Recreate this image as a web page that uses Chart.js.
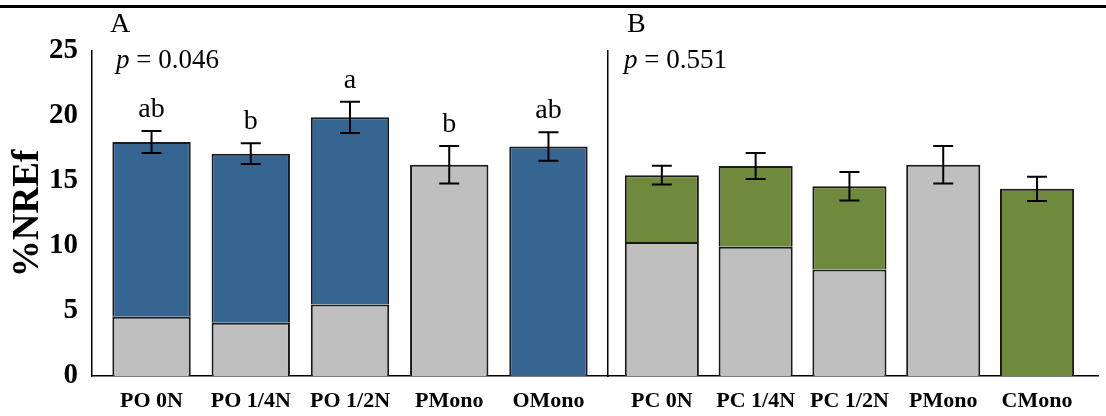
<!DOCTYPE html>
<html>
<head>
<meta charset="utf-8">
<script src="https://cdn.jsdelivr.net/npm/chart.js@4.4.1/dist/chart.umd.min.js"></script>
<style>
    html, body { margin: 0; padding: 0; background: #fff; }
    #wrap { position: relative; width: 1106px; height: 416px; overflow: hidden; }
    #wrap canvas { position: absolute; left: 0; top: 0; }
    #topRule { position: absolute; left: 0; top: 5px; width: 1106px; height: 3px; background: #000; }
</style>
</head>
<body>
<div id="wrap">
    <div id="topRule"></div>
    <canvas id="chartA" width="1106" height="416"></canvas>
    <canvas id="chartB" width="1106" height="416"></canvas>
</div>
<script>
// Panel A: PO intercrop
const labelsA = ['PO 0N', 'PO 1/4N', 'PO 1/2N', 'PMono', 'OMono'];
const grayA = [4.55, 4.1, 5.5, 16.25, null];
const blueA = [13.45, 13.0, 14.4, null, 17.65];
const errA = [0.85, 0.8, 1.2, 1.45, 1.1];
const lettersA = ['ab', 'b', 'a', 'b', 'ab'];

// Panel B: PC intercrop
const labelsB = ['PC 0N', 'PC 1/4N', 'PC 1/2N', 'PMono', 'CMono'];
const grayB = [10.3, 9.95, 8.2, 16.25, null];
const greenB = [5.15, 6.2, 6.4, null, 14.4];
const errB = [0.72, 1.0, 1.1, 1.45, 0.93];
const lettersB = ['', '', '', '', ''];

const yTicks = [0, 5, 10, 15, 20, 25];

const SERIF = '"Liberation Serif", "Times New Roman", serif';
const GRAY = '#bfbfbf';
const BLUE = '#376591';
const GREEN = '#6f8a3d';

// error bars, letters, p value and panel letter
function overlayPlugin(errs, letters, pLabel, pX, panel, panelX) {
    return {
        id: 'overlay',
        afterDatasetsDraw(chart) {
            const ctx = chart.ctx;
            const x = chart.scales.x;
            const y = chart.scales.y;
            ctx.save();
            errs.forEach((e, i) => {
                let total = 0;
                chart.data.datasets.forEach(ds => { total += ds.data[i].y || 0; });
                const cx = x.getPixelForValue(i + 1);
                const top = y.getPixelForValue(total + e);
                const bot = y.getPixelForValue(total - e);
                ctx.strokeStyle = '#000';
                ctx.lineWidth = 2;
                ctx.beginPath();
                ctx.moveTo(cx, top); ctx.lineTo(cx, bot);
                ctx.moveTo(cx - 10, top); ctx.lineTo(cx + 10, top);
                ctx.moveTo(cx - 10, bot); ctx.lineTo(cx + 10, bot);
                ctx.stroke();

                if (letters[i]) {
                    ctx.fillStyle = '#000';
                    ctx.font = '28px ' + SERIF;
                    ctx.textAlign = 'center';
                    ctx.textBaseline = 'alphabetic';
                    ctx.fillText(letters[i], cx, top - 14);
                }
            });

            ctx.fillStyle = '#000';
            ctx.textAlign = 'left';
            ctx.textBaseline = 'alphabetic';
            ctx.font = 'italic 27px ' + SERIF;
            ctx.fillText('p', pX, 68);
            const w = ctx.measureText('p').width;
            ctx.font = '27px ' + SERIF;
            ctx.fillText(' = ' + pLabel, pX + w, 68);

            ctx.font = '28px ' + SERIF;
            ctx.fillText(panel, panelX, 32);
            ctx.restore();
        }
    };
}

function makePanel(id, labels, bottom, top, topColor, errs, letters, opts) {
    const toXY = arr => arr.map((v, i) => ({ x: i + 1, y: v }));
    return new Chart(document.getElementById(id), {
        type: 'bar',
        data: {
            datasets: [{
                data: toXY(bottom),
                backgroundColor: GRAY,
                borderColor: '#1a1a1a',
                borderWidth: 2,
                barPercentage: 0.79,
                categoryPercentage: 1
            }, {
                data: toXY(top),
                backgroundColor: topColor,
                borderColor: '#1a1a1a',
                borderWidth: 2,
                barPercentage: 0.79,
                categoryPercentage: 1
            }]
        },
        options: {
            responsive: false,
            animation: false,
            layout: { padding: { top: 51, right: opts.padRight, left: 0, bottom: 0 } },
            plugins: { legend: { display: false }, tooltip: { enabled: false } },
            scales: {
                x: {
                    type: 'linear',
                    offset: false,
                    stacked: true,
                    min: opts.xMin,
                    max: opts.xMax,
                    grid: { display: false, drawTicks: false, offset: false },
                    border: { display: true, color: '#000', width: 1.5 },
                    afterBuildTicks: s => { s.ticks = labels.map((_, i) => ({ value: i + 1 })); },
                    afterFit: s => { s.height = 40; },
                    ticks: {
                        padding: 12,
                        color: '#000',
                        font: { family: SERIF, size: 22, weight: 'bold' },
                        callback: (v, i) => labels[i]
                    }
                },
                y: {
                    stacked: true,
                    min: 0,
                    max: 25,
                    grid: { display: false, drawTicks: false },
                    border: { display: true, color: '#000', width: 1.5 },
                    afterBuildTicks: s => { s.ticks = yTicks.map(v => ({ value: v })); },
                    afterFit: s => { s.width = opts.yWidth; },
                    ticks: {
                        display: opts.showY,
                        padding: 14,
                        color: '#000',
                        font: { family: SERIF, size: 29, weight: 'bold' }
                    },
                    title: {
                        display: opts.showY,
                        text: '%NREf',
                        color: '#000',
                        padding: { top: 6, bottom: 0 },
                        font: { family: SERIF, size: 37, weight: 'bold' }
                    }
                }
            }
        },
        plugins: [overlayPlugin(errs, letters, opts.p, opts.pX, opts.panel, opts.panelX)]
    });
}

makePanel('chartA', labelsA, grayA, blueA, BLUE, errA, lettersA, {
    padRight: 1106 - 608, xMin: 0.4, xMax: 5.6, yWidth: 92, showY: true,
    p: '0.046', pX: 116, panel: 'A', panelX: 110
});

makePanel('chartB', labelsB, grayB, greenB, GREEN, errB, lettersB, {
    padRight: 8, xMin: 0.426, xMax: 5.65, yWidth: 608, showY: false,
    p: '0.551', pX: 624, panel: 'B', panelX: 627
});
</script>
</body>
</html>
